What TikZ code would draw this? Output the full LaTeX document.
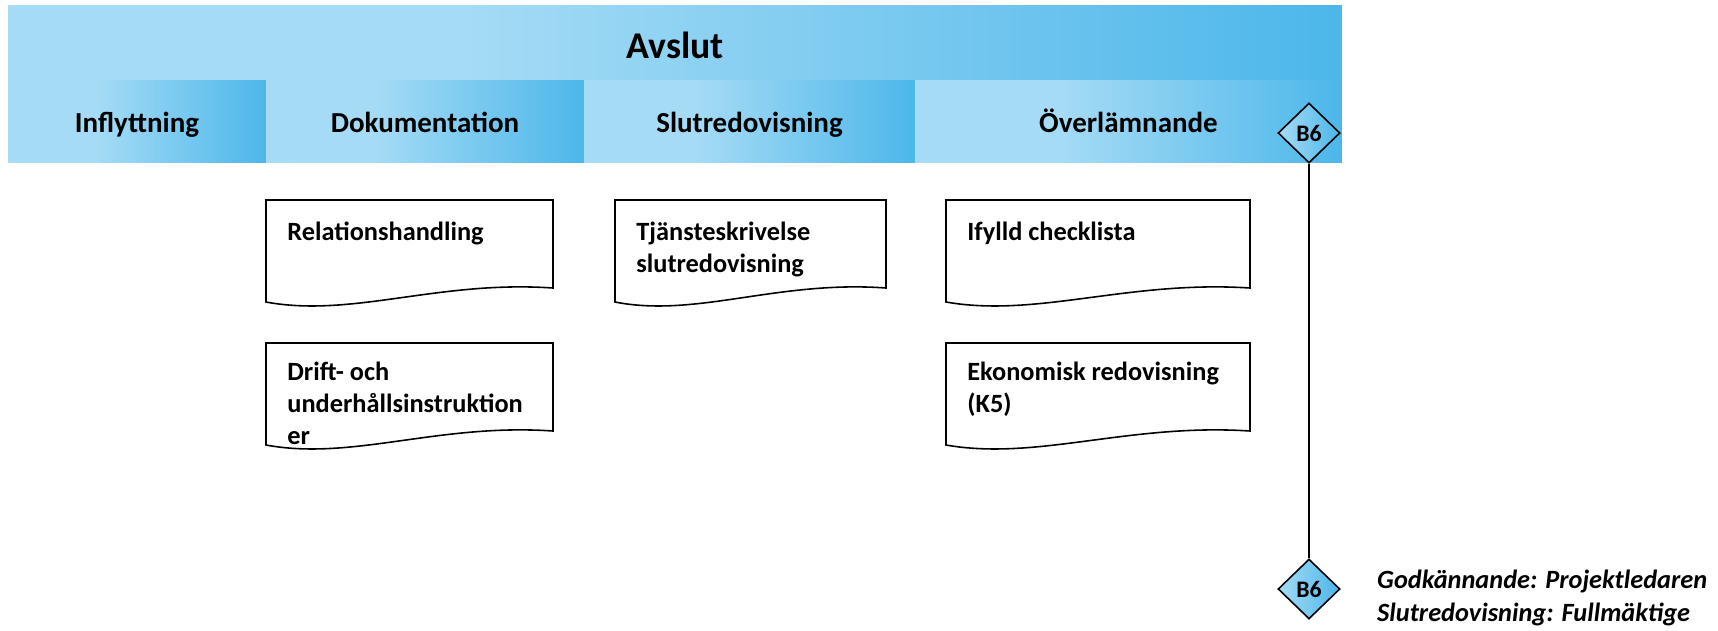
\documentclass[tikz,border=0pt]{standalone}
\usepackage{fontspec}
\setmainfont{Carlito}
\usepackage{tikz}
\usetikzlibrary{shapes.geometric, positioning}
\definecolor{hdlight}{RGB}{165, 219, 245}
\definecolor{hddark}{RGB}{76, 183, 234}
\pgfdeclarehorizontalshading{cellfade}{100bp}{color(0bp)=(hdlight); color(25bp)=(hdlight); color(42bp)=(hdlight); color(75bp)=(hddark); color(100bp)=(hddark)}
\newcommand{\docoutline}[3]{%
  \draw[docline] (#1,#2) -- (#1+#3,#2) -- (#1+#3,#2+88)
    .. controls (#1+0.6*#3,#2+80) and (#1+0.3*#3,#2+118) .. (#1,#2+102) -- cycle;}

\begin{document}
\begin{tikzpicture}[
    x=0.02cm, y=-0.02cm,
    band/.style={rectangle, inner sep=0pt, shade, shading=cellfade, minimum height=1.64cm, text height=14pt, text depth=1.2pt, font=\fontsize{16.5}{20}\selectfont\bfseries},
    gate/.style={diamond, draw, line width=0.9pt, inner sep=0pt, minimum width=1.24cm, minimum height=1.2cm, left color=hdlight, right color=hddark, font=\fontsize{13.5}{16}\selectfont\bfseries},
    docline/.style={draw, line width=0.9pt},
    doctext/.style={anchor=north west, inner sep=0pt, align=left, font=\fontsize{15}{18}\selectfont\bfseries}
]
    \useasboundingbox (0,0) rectangle (1718,630);

    \node[band, minimum width=26.68cm, minimum height=1.5cm, text height=19pt, font=\fontsize{21.5}{26}\selectfont\bfseries] (avslut) at (675,42.5) {Avslut};
    \node[band, minimum width=5.16cm] (inflyttning) at (137,121) {Inflyttning};
    \node[band, minimum width=6.36cm] (dokumentation) at (425,121) {Dokumentation};
    \node[band, minimum width=6.62cm] (slutredovisning) at (749.5,121) {Slutredovisning};
    \node[band, minimum width=8.54cm] (overlamnande) at (1128.5,121) {Överlämnande};

    \docoutline{266}{200}{287}
    \docoutline{266}{343}{287}
    \docoutline{615}{200}{271}
    \docoutline{946}{200}{304}
    \docoutline{946}{343}{304}

    \node[doctext] (relation) at (287,222) {Relationshandling};
    \node[doctext] (drift) at (287,362) {Drift- och\\underhållsinstruktion\\er};
    \node[doctext] (tjanst) at (636,222) {Tjänsteskrivelse\\slutredovisning};
    \node[doctext] (checklista) at (967,222) {Ifylld checklista};
    \node[doctext] (ekonomi) at (967,362) {Ekonomisk redovisning\\(K5)};

    \node[gate] (gatetop) at (1309,133) {B6};
    \node[gate] (gatebottom) at (1309,589) {B6};
    \draw[line width=0.9pt] (gatetop) -- (gatebottom);

    \node[anchor=west, align=left, font=\fontsize{15}{18.7}\selectfont\bfseries\itshape] (approval) at (1371,598) {Godkännande: Projektledaren\\Slutredovisning: Fullmäktige};
\end{tikzpicture}
\end{document}
